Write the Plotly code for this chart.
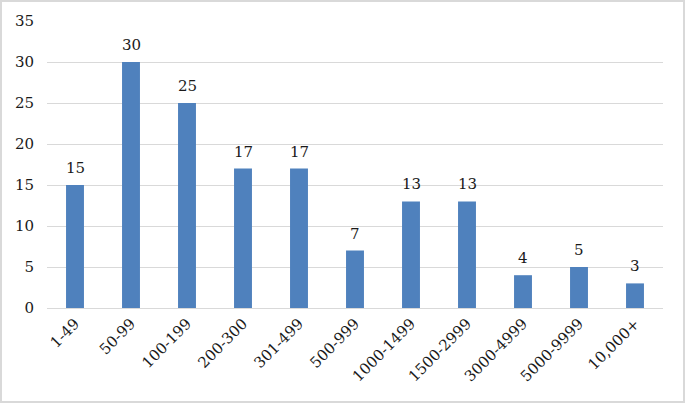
import plotly.graph_objects as go

categories = ["1-49", "50-99", "100-199", "200-300", "301-499", "500-999",
              "1000-1499", "1500-2999", "3000-4999", "5000-9999", "10,000+"]
values = [15, 30, 25, 17, 17, 7, 13, 13, 4, 5, 3]
y_ticks = [0, 5, 10, 15, 20, 25, 30, 35]

W, H = 685, 403
L, R, T, B = 47, 22, 21, 95
pw, ph = W - L - R, H - T - B
FONT = "DejaVu Serif, serif"
TXT = "#1a1a1a"

fig = go.Figure(go.Bar(
    x=categories, y=values,
    marker=dict(color="#4f81bd", line=dict(width=0)),
))

for c, v in zip(categories, values):
    fig.add_annotation(x=c, y=v, text=str(v), showarrow=False,
                       yanchor="bottom", yshift=6,
                       font=dict(family=FONT, size=15, color=TXT))

fig.update_layout(
    width=W, height=H,
    margin=dict(l=L, r=R, t=T, b=B, autoexpand=False),
    paper_bgcolor="white", plot_bgcolor="white",
    bargap=0.68, showlegend=False,
    font=dict(family=FONT, size=15, color=TXT),
    xaxis=dict(tickangle=-45, showgrid=False, showline=True, linecolor="#d9d9d9",
               linewidth=1, ticks="", automargin=False, tickfont=dict(size=15)),
    yaxis=dict(range=[0, 35], tickvals=y_ticks, showgrid=True, gridcolor="#d9d9d9",
               gridwidth=1, zeroline=False, showline=False, ticks="",
               automargin=False, ticklabelstandoff=12, tickfont=dict(size=15)),
    shapes=[dict(type="rect", xref="paper", yref="paper",
                 x0=(1 - L) / pw, x1=(W - 1 - L) / pw,
                 y0=-(H - 1 - T - ph) / ph, y1=(T - 1) / ph + 1,
                 line=dict(color="#d9d9d9", width=2), layer="below")],
)

fig.write_html("out.html", config={"displayModeBar": False},
               post_script="document.body.style.margin='0';")
